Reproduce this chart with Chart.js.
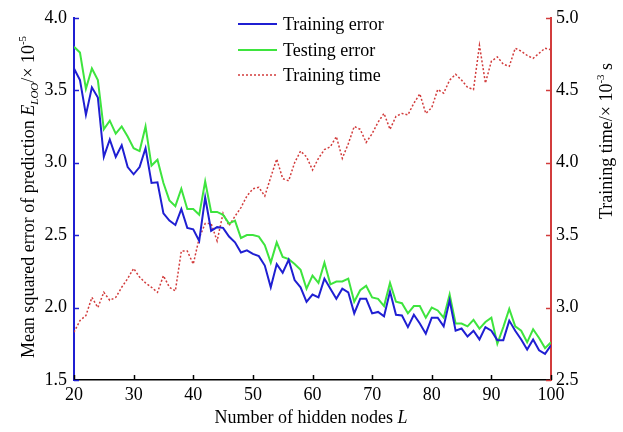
<!DOCTYPE html>
<html>
<head>
<meta charset="utf-8">
<script src="https://cdn.jsdelivr.net/npm/chart.js@4.4.1/dist/chart.umd.min.js"></script>
<style>
  body { margin: 0; background: #fff; }
  #wrap { width: 623px; height: 432px; }
</style>
</head>
<body>
<div id="wrap"><canvas id="lineChart" width="623" height="432"></canvas></div>
<script>
// hidden nodes L
const nodes = [20, 21, 22, 23, 24, 25, 26, 27, 28, 29, 30, 31, 32, 33, 34, 35, 36, 37, 38, 39,
	40, 41, 42, 43, 44, 45, 46, 47, 48, 49, 50, 51, 52, 53, 54, 55, 56, 57, 58, 59,
	60, 61, 62, 63, 64, 65, 66, 67, 68, 69, 70, 71, 72, 73, 74, 75, 76, 77, 78, 79,
	80, 81, 82, 83, 84, 85, 86, 87, 88, 89, 90, 91, 92, 93, 94, 95, 96, 97, 98, 99, 100];

// E_LOO x 1e-5
const trainingError = [3.65, 3.57, 3.33, 3.52, 3.45, 3.04, 3.16, 3.04, 3.12, 2.97,
	2.92, 2.97, 3.10, 2.86, 2.865, 2.65, 2.60, 2.57, 2.68, 2.55,
	2.54, 2.46, 2.76, 2.53, 2.555, 2.55, 2.49, 2.45, 2.38, 2.395,
	2.37, 2.355, 2.29, 2.14, 2.30, 2.24, 2.33, 2.19, 2.14, 2.04,
	2.09, 2.07, 2.20, 2.13, 2.06, 2.13, 2.105, 1.96, 2.06, 2.06,
	1.96, 1.97, 1.94, 2.11, 1.95, 1.945, 1.865, 1.95, 1.89, 1.82,
	1.93, 1.93, 1.87, 2.05, 1.84, 1.855, 1.80, 1.84, 1.78, 1.865,
	1.84, 1.775, 1.775, 1.91, 1.84, 1.78, 1.71, 1.78, 1.705, 1.68, 1.74];

const testingError = [3.80, 3.76, 3.51, 3.65, 3.57, 3.23, 3.29, 3.20, 3.25, 3.18,
	3.10, 3.08, 3.25, 2.98, 3.02, 2.86, 2.74, 2.70, 2.82, 2.68,
	2.68, 2.64, 2.87, 2.66, 2.66, 2.64, 2.58, 2.60, 2.48, 2.50,
	2.50, 2.49, 2.43, 2.31, 2.45, 2.35, 2.335, 2.30, 2.26, 2.13,
	2.22, 2.17, 2.31, 2.16, 2.18, 2.18, 2.20, 2.04, 2.12, 2.15,
	2.07, 2.06, 2.01, 2.17, 2.04, 2.03, 1.96, 2.01, 2.01, 1.93,
	2.00, 1.98, 1.93, 2.09, 1.89, 1.89, 1.87, 1.915, 1.855, 1.90,
	1.93, 1.75, 1.865, 1.99, 1.87, 1.84, 1.76, 1.85, 1.79, 1.72, 1.76];

// training time x 1e-3 s
const trainingTime = [2.83, 2.91, 2.945, 3.07, 3.00, 3.105, 3.05, 3.07, 3.14, 3.20,
	3.27, 3.21, 3.17, 3.14, 3.105, 3.22, 3.14, 3.115, 3.39, 3.39,
	3.30, 3.48, 3.58, 3.58, 3.46, 3.65, 3.565, 3.63, 3.69, 3.77,
	3.82, 3.83, 3.77, 3.90, 4.025, 3.89, 3.875, 4.00, 4.08, 4.04,
	3.95, 4.03, 4.09, 4.11, 4.18, 4.03, 4.13, 4.25, 4.23, 4.14,
	4.20, 4.28, 4.34, 4.23, 4.32, 4.34, 4.33, 4.41, 4.475, 4.34,
	4.38, 4.505, 4.48, 4.57, 4.61, 4.57, 4.52, 4.505, 4.81, 4.55,
	4.70, 4.73, 4.68, 4.665, 4.79, 4.77, 4.74, 4.72, 4.755, 4.79, 4.78];

const xTicks = [20, 30, 40, 50, 60, 70, 80, 90, 100];
const leftTicks = [1.5, 2.0, 2.5, 3.0, 3.5, 4.0];
const rightTicks = [2.5, 3.0, 3.5, 4.0, 4.5, 5.0];

const BLUE = '#1f1fd2';
const GREEN = '#3ee43e';
const RED = '#d23c3c';
const SERIF = "'Liberation Serif', 'Times New Roman', serif";

Chart.defaults.font.family = SERIF;
Chart.defaults.font.size = 18;
Chart.defaults.color = '#000';

const toPoints = (vals) => vals.map((v, i) => ({ x: nodes[i], y: v }));

// draws a run of text pieces (normal / italic / sub / sup) centred at 0,0
function richText(ctx, parts, size) {
	const fontFor = (p) => (p.i ? 'italic ' : '') + (p.sup || p.sub ? Math.round(size * 0.62) : size) + 'px ' + SERIF;
	let total = 0;
	parts.forEach(p => { ctx.font = fontFor(p); total += ctx.measureText(p.t).width; });
	let x = -total / 2;
	parts.forEach(p => {
		ctx.font = fontFor(p);
		let dy = 0;
		if (p.sup) dy = -size * 0.42;
		if (p.sub) dy = size * 0.22;
		ctx.fillText(p.t, x, dy);
		x += ctx.measureText(p.t).width;
	});
}

const decor = {
	id: 'decor',
	afterDraw(chart) {
		const ctx = chart.ctx;
		const a = chart.chartArea;
		const sx = chart.scales.x, sy = chart.scales.y, sy1 = chart.scales.y1;
		ctx.save();
		// inward tick marks
		ctx.lineWidth = 1.5;
		ctx.strokeStyle = '#000';
		xTicks.forEach(v => {
			const px = Math.round(sx.getPixelForValue(v)) + 0.5;
			ctx.beginPath(); ctx.moveTo(px, a.bottom); ctx.lineTo(px, a.bottom - 5); ctx.stroke();
		});
		ctx.strokeStyle = BLUE;
		leftTicks.forEach(v => {
			const py = Math.round(sy.getPixelForValue(v)) + 0.5;
			ctx.beginPath(); ctx.moveTo(a.left, py); ctx.lineTo(a.left + 5, py); ctx.stroke();
		});
		ctx.strokeStyle = RED;
		rightTicks.forEach(v => {
			const py = Math.round(sy1.getPixelForValue(v)) + 0.5;
			ctx.beginPath(); ctx.moveTo(a.right, py); ctx.lineTo(a.right - 5, py); ctx.stroke();
		});

		// legend inside the plot
		const rows = [
			{ label: 'Training error', color: BLUE, w: 2, dash: [] , y: 24 },
			{ label: 'Testing error', color: GREEN, w: 2, dash: [], y: 50 },
			{ label: 'Training time', color: RED, w: 1.5, dash: [2, 2], y: 75 }
		];
		rows.forEach(r => {
			ctx.strokeStyle = r.color;
			ctx.lineWidth = r.w;
			ctx.setLineDash(r.dash);
			ctx.beginPath(); ctx.moveTo(238, r.y); ctx.lineTo(277, r.y); ctx.stroke();
			ctx.setLineDash([]);
			ctx.fillStyle = '#000';
			ctx.font = '18px ' + SERIF;
			ctx.textAlign = 'left';
			ctx.textBaseline = 'middle';
			ctx.fillText(r.label, 283, r.y + 1);
		});

		// axis titles
		ctx.fillStyle = '#000';
		ctx.textAlign = 'left';
		ctx.textBaseline = 'alphabetic';
		ctx.save();
		ctx.translate(311, 423);
		richText(ctx, [{ t: 'Number of hidden nodes ' }, { t: 'L', i: true }], 18);
		ctx.restore();

		ctx.save();
		ctx.translate(34, 197);
		ctx.rotate(-Math.PI / 2);
		richText(ctx, [
			{ t: 'Mean squared error of prediction ' },
			{ t: 'E', i: true },
			{ t: 'LOO', i: true, sub: true },
			{ t: '/\u00d7 10' },
			{ t: '-5', sup: true }
		], 18);
		ctx.restore();

		ctx.save();
		ctx.translate(612, 141);
		ctx.rotate(-Math.PI / 2);
		richText(ctx, [
			{ t: 'Training time/\u00d7 10' },
			{ t: '-3', sup: true },
			{ t: ' s' }
		], 18);
		ctx.restore();
		ctx.restore();
	}
};

const ctx = document.getElementById('lineChart').getContext('2d');
const lineChart = new Chart(ctx, {
	type: 'line',
	data: {
		datasets: [
			{
				label: 'Training error',
				data: toPoints(trainingError),
				yAxisID: 'y',
				borderColor: BLUE,
				borderWidth: 2,
				pointRadius: 0,
				tension: 0
			},
			{
				label: 'Testing error',
				data: toPoints(testingError),
				yAxisID: 'y',
				borderColor: GREEN,
				borderWidth: 2,
				pointRadius: 0,
				tension: 0
			},
			{
				label: 'Training time',
				data: toPoints(trainingTime),
				yAxisID: 'y1',
				borderColor: RED,
				borderWidth: 1.5,
				borderDash: [2, 2],
				pointRadius: 0,
				tension: 0
			}
		]
	},
	options: {
		responsive: false,
		animation: false,
		layout: { padding: { top: 15, left: 0, right: 0, bottom: 0 } },
		plugins: {
			legend: { display: false },
			tooltip: { enabled: false }
		},
		scales: {
			x: {
				type: 'linear',
				min: 20,
				max: 100,
				afterFit(s) { s.height = 52; },
				afterBuildTicks(s) { s.ticks = xTicks.map(v => ({ value: v })); },
				grid: { display: false, drawTicks: false },
				border: { display: true, color: '#000', width: 1.5 },
				ticks: { padding: 4, maxRotation: 0, autoSkip: false, color: '#000' }
			},
			y: {
				position: 'left',
				min: 1.5,
				max: 4.0,
				afterFit(s) { s.width = 74; },
				afterBuildTicks(s) { s.ticks = leftTicks.map(v => ({ value: v })); },
				grid: { display: false, drawTicks: false },
				border: { display: true, color: BLUE, width: 2 },
				ticks: { padding: 7, callback: v => v.toFixed(1), color: '#000' }
			},
			y1: {
				position: 'right',
				min: 2.5,
				max: 5.0,
				afterFit(s) { s.width = 72; },
				afterBuildTicks(s) { s.ticks = rightTicks.map(v => ({ value: v })); },
				grid: { display: false, drawTicks: false },
				border: { display: true, color: RED, width: 2 },
				ticks: { padding: 5, callback: v => v.toFixed(1), color: '#000' }
			}
		}
	},
	plugins: [decor]
});
</script>
</body>
</html>
